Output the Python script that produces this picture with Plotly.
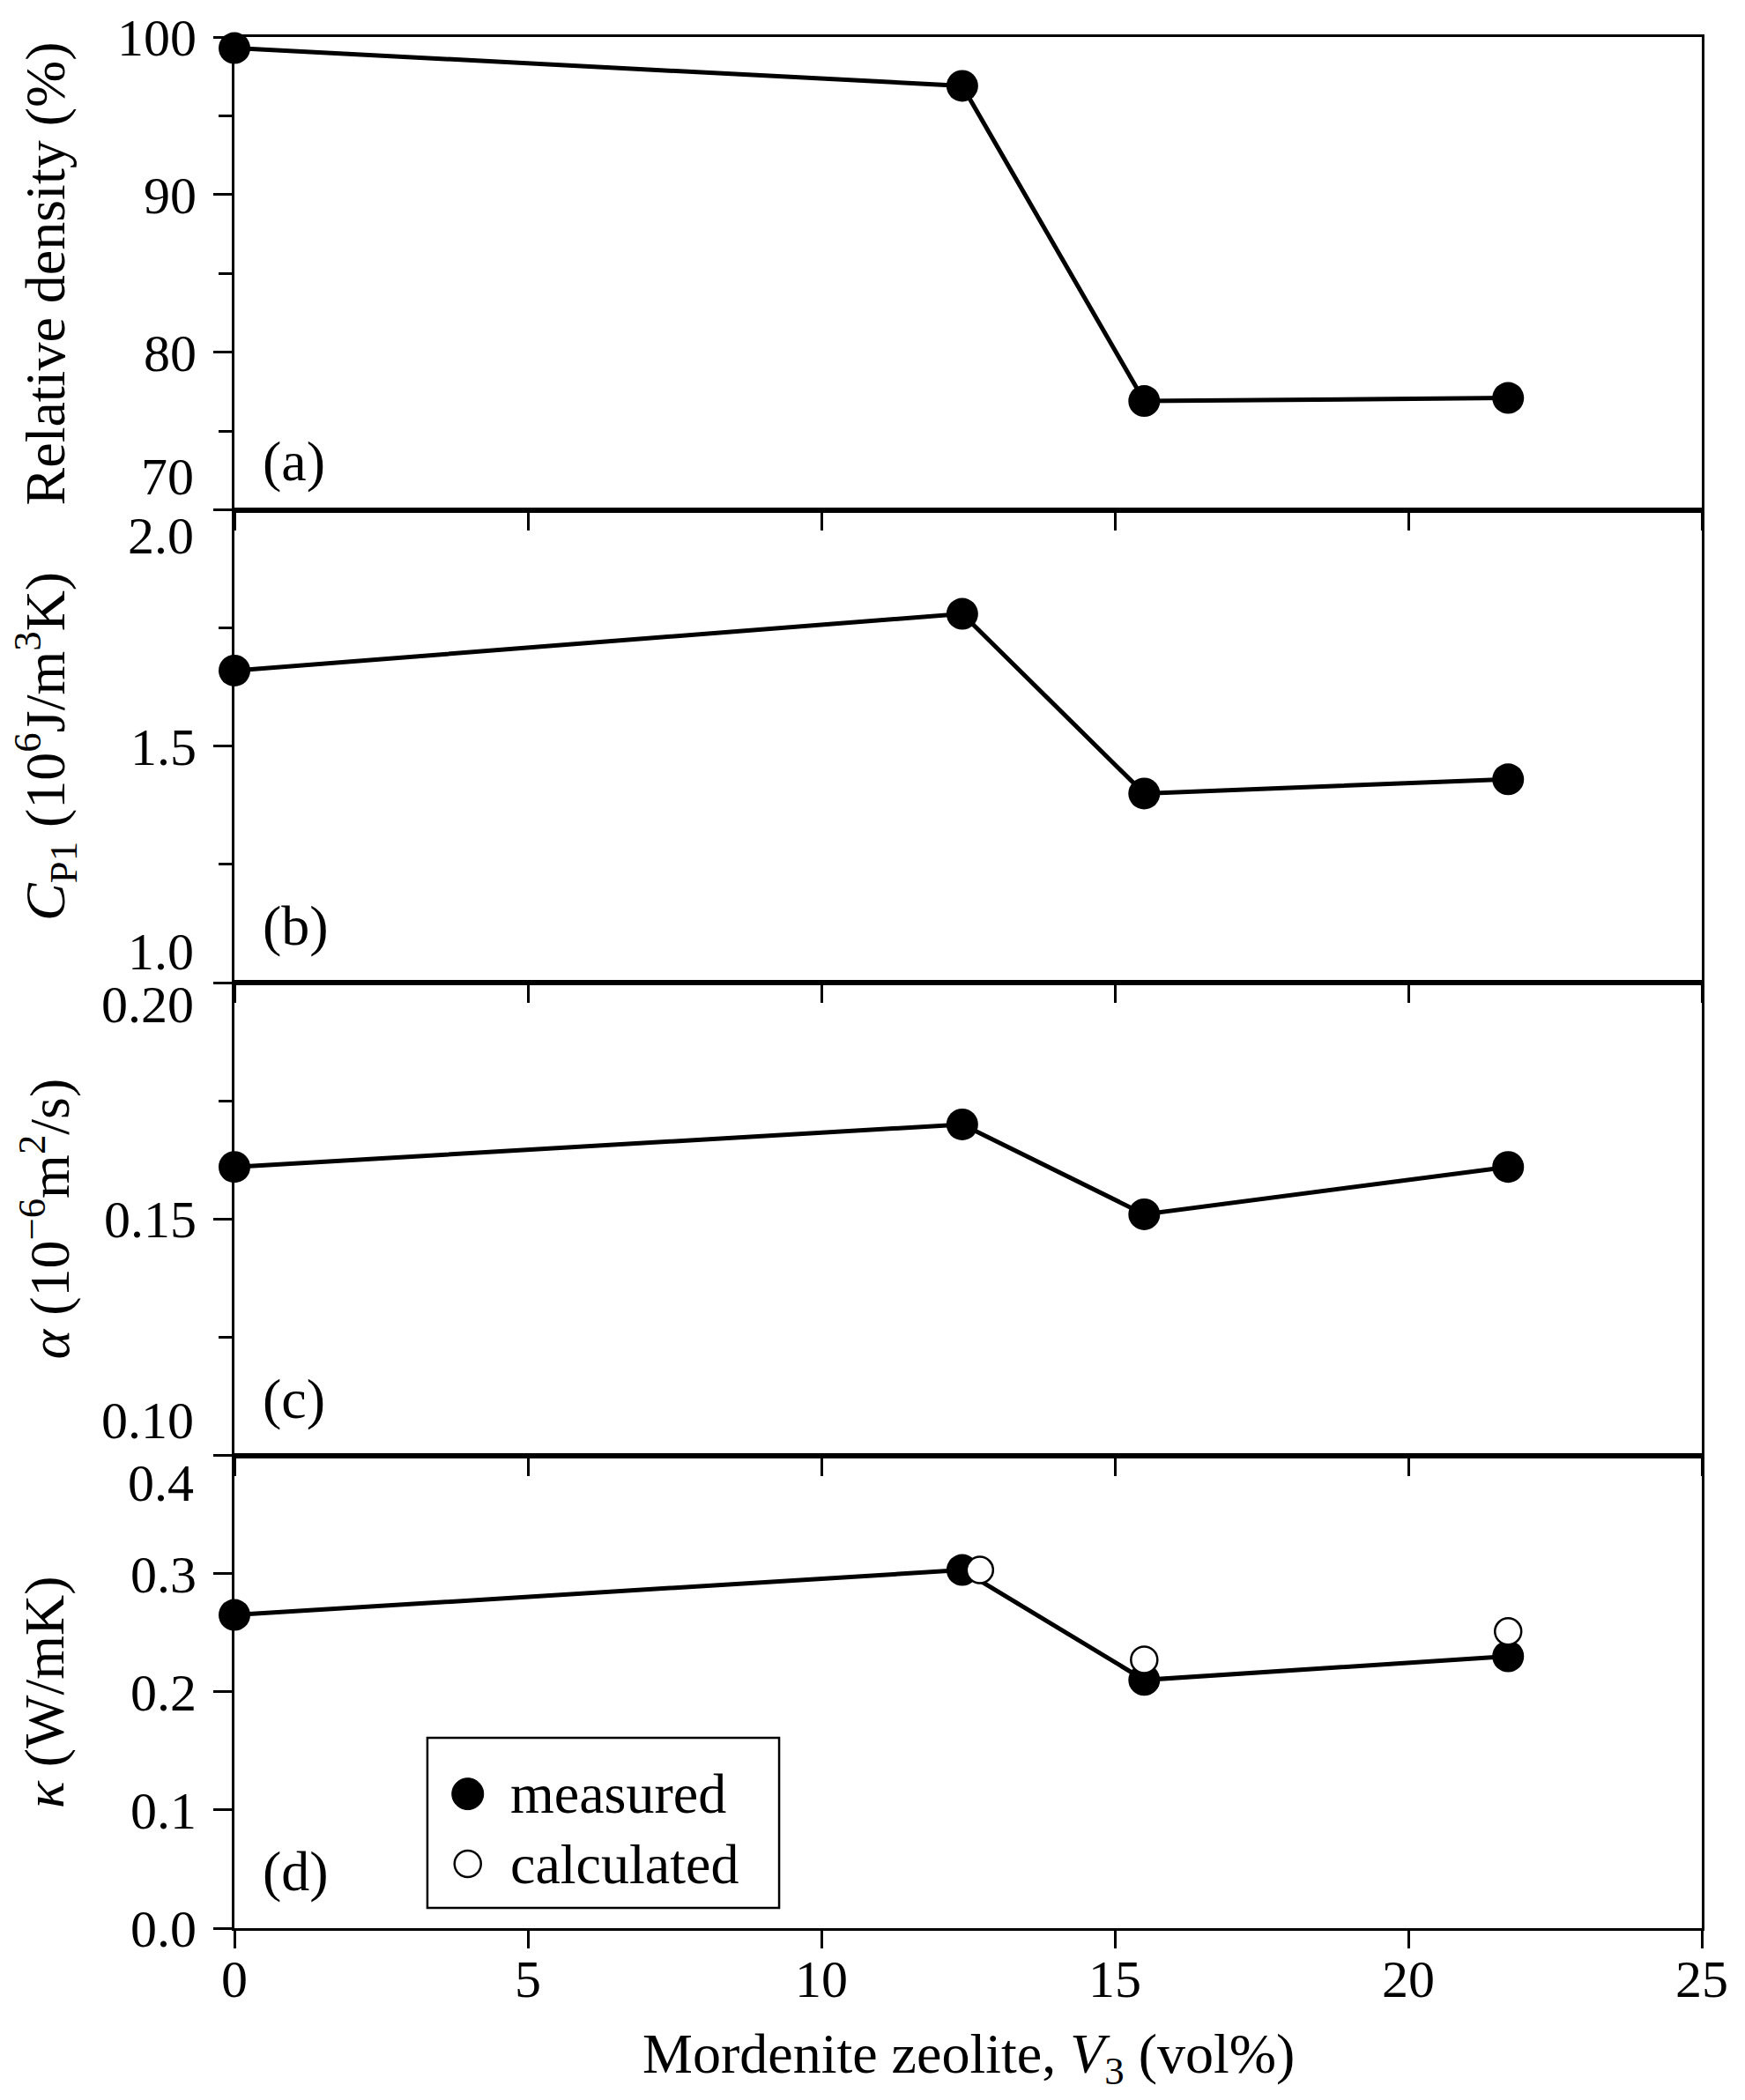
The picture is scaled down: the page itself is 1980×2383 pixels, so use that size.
import plotly.graph_objects as go
from plotly.subplots import make_subplots

# volume fraction of mordenite zeolite (vol%)
v3 = [0, 12.4, 15.5, 21.7]
rel_density = [99.3, 96.9, 76.9, 77.1]
cp1 = [1.66, 1.78, 1.40, 1.43]
alpha = [0.161, 0.170, 0.151, 0.161]
kappa_meas = [0.265, 0.303, 0.210, 0.230]

# calculated thermal conductivity
v3_calc = [12.7, 15.5, 21.7]
kappa_calc = [0.303, 0.227, 0.251]

x_ticks = [0, 5, 10, 15, 20, 25]

FONT = "Liberation Serif"
TICK_SIZE = 60
TITLE_SIZE = 64

fig = make_subplots(rows=4, cols=1, shared_xaxes=True, vertical_spacing=0)

panels = [rel_density, cp1, alpha, kappa_meas]
for i, y in enumerate(panels):
    fig.add_trace(go.Scatter(x=v3, y=y, mode="lines+markers",
                             line=dict(color="black", width=5),
                             marker=dict(color="black", size=36),
                             cliponaxis=False, showlegend=False),
                  row=i + 1, col=1)

fig.add_trace(go.Scatter(x=v3_calc, y=kappa_calc, mode="markers",
                         marker=dict(color="white", size=30, line=dict(color="black", width=2.5)),
                         cliponaxis=False, showlegend=False),
              row=4, col=1)

# y axes: range, major ticks, labels, minor ticks
y_setup = [
    dict(range=[70, 100], tickvals=[70, 80, 90, 100], ticktext=["", "80", "90", "100"], minor=[75, 85, 95]),
    dict(range=[1.0, 2.0], tickvals=[1.0, 1.5, 2.0], ticktext=["", "1.5", ""], minor=[1.25, 1.75]),
    dict(range=[0.10, 0.20], tickvals=[0.10, 0.15, 0.20], ticktext=["", "0.15", ""], minor=[0.125, 0.175]),
    dict(range=[0.0, 0.4], tickvals=[0.0, 0.1, 0.2, 0.3, 0.4], ticktext=["0.0", "0.1", "0.2", "0.3", ""], minor=[]),
]
for i, s in enumerate(y_setup):
    minor = dict(tickvals=s["minor"], ticks="outside", ticklen=15, tickwidth=3, tickcolor="black") if s["minor"] else dict(ticks="")
    fig.update_yaxes(range=s["range"], tickvals=s["tickvals"], ticktext=s["ticktext"],
                     ticks="outside", ticklen=21, tickwidth=3, tickcolor="black",
                     minor=minor, ticklabelstandoff=7, automargin=False,
                     showline=True, linewidth=3, linecolor="black", mirror=True,
                     showgrid=False, zeroline=False,
                     tickfont=dict(family=FONT, size=TICK_SIZE, color="black"),
                     row=i + 1, col=1)

fig.update_xaxes(range=[0, 25], tickvals=x_ticks, ticks="outside", ticklen=20, tickwidth=3,
                 tickcolor="black", showline=True, linewidth=3, linecolor="black", mirror=True,
                 showgrid=False, zeroline=False, ticklabelstandoff=-17, automargin=False,
                 tickfont=dict(family=FONT, size=TICK_SIZE, color="black"))
fig.update_xaxes(showticklabels=True, row=4, col=1)

annotations = []

# end tick labels nudged inside their own panel
end_labels = [
    ("y", 70, "70", 38),
    ("y2", 2.0, "2.0", -29),
    ("y2", 1.0, "1.0", 35),
    ("y3", 0.20, "0.20", -25),
    ("y3", 0.10, "0.10", 40),
    ("y4", 0.4, "0.4", -31),
]
for yref, val, txt, shift in end_labels:
    annotations.append(dict(text=txt, xref="paper", x=0, xanchor="right", xshift=-44,
                            yref=yref, y=val, yanchor="middle", yshift=shift, showarrow=False,
                            font=dict(family=FONT, size=TICK_SIZE, color="black")))

# y-axis titles
y_titles = [
    "Relative density (%)",
    "<i>C</i><sub>P1</sub> (10<sup>6</sup>J/m<sup>3</sup>K)",
    "<i>α</i> (10<sup>−6</sup>m<sup>2</sup>/s)",
    "<i>κ</i> (W/mK)",
]
for i, t in enumerate(y_titles):
    yref = "y domain" if i == 0 else f"y{i + 1} domain"
    annotations.append(dict(text=t, textangle=-90, xref="paper", x=-0.129, xanchor="center",
                            yref=yref, y=0.5, yanchor="middle", showarrow=False,
                            font=dict(family=FONT, size=TITLE_SIZE, color="black")))

# panel labels
for i, lab in enumerate(["(a)", "(b)", "(c)", "(d)"]):
    yref = "y domain" if i == 0 else f"y{i + 1} domain"
    annotations.append(dict(text=lab, xref="paper", x=0.018, xanchor="left",
                            yref=yref, y=0.103 if i == 0 else 0.12, yanchor="middle", showarrow=False,
                            font=dict(family=FONT, size=TITLE_SIZE, color="black")))

# x-axis title
annotations.append(dict(text="Mordenite zeolite, <i>V</i><sub>3</sub> (vol%)", xref="paper", x=0.5,
                        xanchor="center", yref="paper", y=0, yanchor="middle", yshift=-147,
                        showarrow=False, font=dict(family=FONT, size=TITLE_SIZE, color="black")))

# legend (drawn by hand so the symbols keep their plotted size)
annotations.append(dict(text="measured", xref="paper", x=0.187, xanchor="left",
                        yref="paper", y=0.071, yanchor="middle", showarrow=False,
                        font=dict(family=FONT, size=TITLE_SIZE, color="black")))
annotations.append(dict(text="calculated", xref="paper", x=0.187, xanchor="left",
                        yref="paper", y=0.034, yanchor="middle", showarrow=False,
                        font=dict(family=FONT, size=TITLE_SIZE, color="black")))

shapes = [
    dict(type="rect", xref="paper", yref="paper", x0=0.1315, x1=0.3712, y0=0.0107, y1=0.1007,
         line=dict(color="black", width=2.5), fillcolor="white", layer="above"),
    dict(type="circle", xref="paper", yref="paper", xsizemode="pixel", ysizemode="pixel",
         xanchor=0.159, yanchor=0.071, x0=-18, x1=18, y0=-18, y1=18,
         fillcolor="black", line=dict(color="black", width=1)),
    dict(type="circle", xref="paper", yref="paper", xsizemode="pixel", ysizemode="pixel",
         xanchor=0.159, yanchor=0.034, x0=-15, x1=15, y0=-15, y1=15,
         fillcolor="white", line=dict(color="black", width=2.5)),
]

# page body adds an 8 px margin, so the figure is 16 px smaller than the window
fig.update_layout(width=1964, height=2367,
                  margin=dict(l=258, r=41, t=34, b=187, autoexpand=False),
                  plot_bgcolor="white", paper_bgcolor="white",
                  annotations=annotations, shapes=shapes,
                  font=dict(family=FONT, color="black"))

fig.write_html("out.html")
